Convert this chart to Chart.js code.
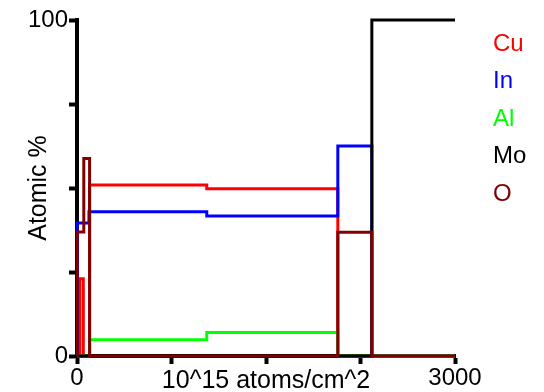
<!DOCTYPE html>
<html>
<head>
<meta charset="utf-8">
<script src="https://cdn.jsdelivr.net/npm/chart.js@4.4.1/dist/chart.umd.min.js"></script>
<style>
    html, body { margin: 0; padding: 0; background: #fff; }
    #wrap { width: 544px; height: 392px; }
</style>
</head>
<body>
<div id="wrap"><canvas id="depthChart"></canvas></div>
<script>
// depth (10^15 atoms/cm^2) where each layer starts, and atomic % in that layer
const cuDepth = [0, 22, 50, 100, 1030, 2070, 3000];
const cuPct   = [0, 23, 0, 50.9, 49.8, 0, 0];

const inDepth = [0, 2, 95, 1030, 2070, 2340, 3000];
const inPct   = [0, 39.6, 42.9, 41.7, 62.5, 0, 0];

const alDepth = [0, 100, 1030, 2070, 3000];
const alPct   = [0, 4.8, 7.0, 0, 0];

const moDepth = [0, 2340, 3000];
const moPct   = [0, 100, 100];

const oDepth = [0, 2, 54, 100, 2070, 2340, 3000];
const oPct   = [0, 36.9, 58.8, 0, 36.8, 0, 0];

const elements = ['Cu', 'In', 'Al', 'Mo', 'O'];
const colors = ['#ff0000', '#0000ff', '#00ff00', '#000000', '#800000'];
const xTickLabels = [0, 3000];
const yTickLabels = [0, 100];

const FONT = "'Liberation Sans', Arial, sans-serif";

function points(depth, pct) {
    return depth.map((d, i) => ({ x: d, y: pct[i] }));
}

const series = [
    points(cuDepth, cuPct),
    points(inDepth, inPct),
    points(alDepth, alPct),
    points(moDepth, moPct),
    points(oDepth, oPct)
];

// plain coloured text on the right, no boxes
const sideLegend = {
    id: 'sideLegend',
    afterDraw(chart) {
        const ctx = chart.ctx;
        ctx.save();
        ctx.font = '24px ' + FONT;
        ctx.textAlign = 'left';
        ctx.textBaseline = 'middle';
        elements.forEach((name, i) => {
            ctx.fillStyle = colors[i];
            ctx.fillText(name, 493, 44 + i * 37.6);
        });
        ctx.restore();
    }
};

const ctx = document.getElementById('depthChart').getContext('2d');
new Chart(ctx, {
    type: 'line',
    data: {
        datasets: series.map((data, i) => ({
            label: elements[i],
            data: data,
            borderColor: colors[i],
            backgroundColor: colors[i],
            borderWidth: 3,
            stepped: 'before',
            pointRadius: 0,
            fill: false,
            clip: false,
            order: elements.length - i
        }))
    },
    options: {
        responsive: true,
        maintainAspectRatio: false,
        animation: false,
        layout: { padding: { top: 20, right: 89, bottom: 0, left: 0 } },
        plugins: {
            legend: { display: false },
            tooltip: { enabled: false }
        },
        scales: {
            x: {
                type: 'linear',
                min: 0,
                max: 3000,
                afterFit: (s) => { s.height = 36; },
                border: { display: true, color: '#000', width: 4 },
                grid: { drawOnChartArea: false, drawTicks: true, tickLength: 8, tickWidth: 4, tickColor: '#000' },
                ticks: {
                    stepSize: 750,
                    autoSkip: false,
                    maxRotation: 0,
                    padding: 0,
                    color: '#000',
                    font: { family: FONT, size: 24 },
                    callback: (v) => xTickLabels.includes(v) ? String(v) : ''
                },
                title: {
                    display: true,
                    text: '10^15 atoms/cm^2',
                    color: '#000',
                    font: { family: FONT, size: 25 },
                    padding: { top: 0, bottom: -4 }
                }
            },
            y: {
                min: 0,
                max: 100,
                afterFit: (s) => { s.width = 77; },
                border: { display: true, color: '#000', width: 4 },
                grid: { drawOnChartArea: false, drawTicks: true, tickLength: 8, tickWidth: 4, tickColor: '#000' },
                ticks: {
                    stepSize: 25,
                    padding: 1,
                    color: '#000',
                    font: { family: FONT, size: 24 },
                    callback: (v) => yTickLabels.includes(v) ? String(v) : ''
                },
                title: {
                    display: true,
                    text: 'Atomic %',
                    color: '#000',
                    font: { family: FONT, size: 25 },
                    padding: { top: 24, bottom: 0 }
                }
            }
        }
    },
    plugins: [sideLegend]
});
</script>
</body>
</html>
